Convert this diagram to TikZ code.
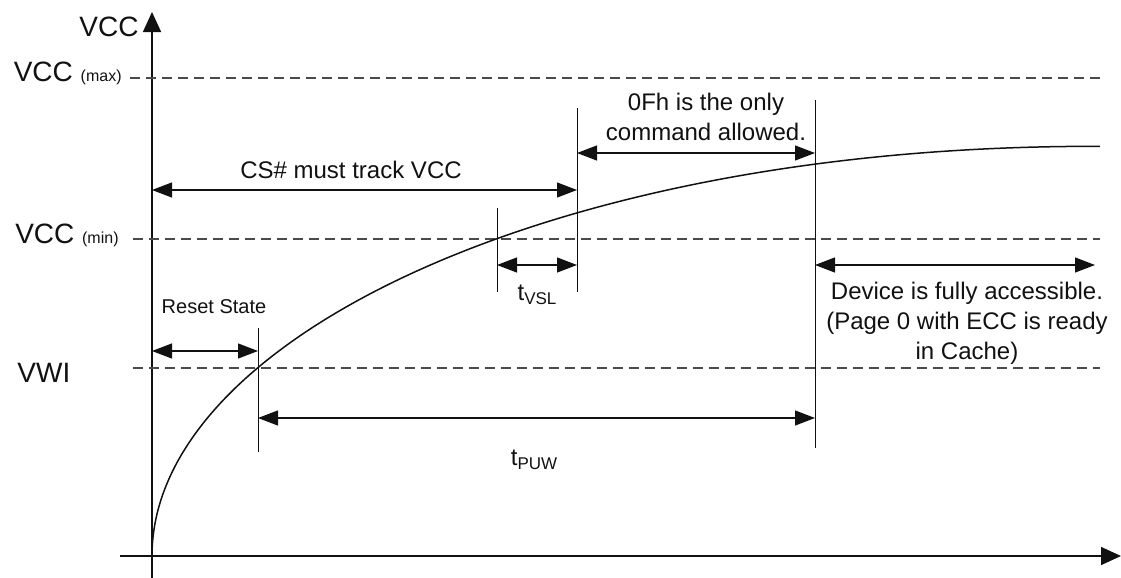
\documentclass[tikz,border=0pt]{standalone}
\usepackage{fontspec}
\setmainfont{Liberation Sans}
\usepackage{xcolor}
\usetikzlibrary{arrows.meta}
\definecolor{ink}{HTML}{111111}
\definecolor{gridgray}{HTML}{4A4A4A}
\newcommand{\subtxt}[1]{\raisebox{-0.3ex}{\fontsize{8.5}{9}\selectfont #1}}

\begin{document}
\begin{tikzpicture}[x=0.5pt, y=-0.5pt,
  lbl/.style={font=\fontsize{12}{15}\selectfont, text=ink, inner sep=0pt, align=center},
  small/.style={font=\fontsize{10}{12}\selectfont, text=ink, inner sep=0pt},
  big/.style={font=\fontsize{14}{14}\selectfont, text=ink, inner sep=0pt},
  level/.style={draw=gridgray, line width=0.6pt, dash pattern=on 5pt off 3pt},
  tick/.style={draw=ink, line width=0.5pt},
  dim/.style={draw=ink, line width=0.6pt,
    {Triangle[length=10pt,width=7.5pt]}-{Triangle[length=10pt,width=7.5pt]}},
  axis/.style={draw=ink, line width=0.8pt, -{Triangle[length=10pt,width=9pt]}}]
  \useasboundingbox (0,0) rectangle (1121,578);

  % axes
  \coordinate (ybot) at (152,578);
  \coordinate (ytop) at (152,12);
  \coordinate (xbeg) at (120,556);
  \coordinate (xend) at (1121,556);
  \draw[axis] (ybot) -- (ytop);
  \draw[axis] (xbeg) -- (xend);
  \node[big, anchor=base east] (vccaxis) at (139,37) {VCC};

  % voltage levels
  \coordinate (max-l) at (130,78);   \coordinate (max-r) at (1100,78);
  \coordinate (min-l) at (133,239);  \coordinate (min-r) at (1100,239);
  \coordinate (vwi-l) at (133,368);  \coordinate (vwi-r) at (1100,368);
  \draw[level] (max-l) -- (max-r);
  \draw[level] (min-l) -- (min-r);
  \draw[level] (vwi-l) -- (vwi-r);
  \node[big, anchor=base east] (vccmax) at (122,81)
    {VCC {\fontsize{8}{8}\selectfont(max)}};
  \node[big, anchor=base east] (vccmin) at (119,243)
    {VCC {\fontsize{8}{8}\selectfont(min)}};
  \node[big, anchor=base west] (vwi) at (17,382) {VWI};

  % supply ramp
  \draw[ink, line width=0.75pt] plot[domain=0:30.79, samples=160, variable=\t]
    ({152+\t*\t}, {556-\t*(18.79-0.004459*\t*\t-(\t*\t/844)^2)});

  % markers
  \coordinate (rst-t) at (258,328);  \coordinate (rst-b) at (258,452);
  \coordinate (vsl-t) at (497,208);  \coordinate (vsl-b) at (497,292);
  \coordinate (cs-t) at (577,108);   \coordinate (cs-b) at (577,292);
  \coordinate (acc-t) at (815,100);  \coordinate (acc-b) at (815,448);
  \draw[tick] (rst-t) -- (rst-b);
  \draw[tick] (vsl-t) -- (vsl-b);
  \draw[tick] (cs-t) -- (cs-b);
  \draw[tick] (acc-t) -- (acc-b);

  % timing arrows
  \coordinate (rst-a) at (152,351);  \coordinate (rst-z) at (258,351);
  \coordinate (puw-a) at (258,418);  \coordinate (puw-z) at (815,418);
  \coordinate (cs-a) at (152,190);   \coordinate (cs-z) at (577,190);
  \coordinate (vsl-a) at (497,265);  \coordinate (vsl-z) at (577,265);
  \coordinate (cmd-a) at (577,153);  \coordinate (cmd-z) at (815,153);
  \coordinate (acc-a) at (815,265);  \coordinate (acc-z) at (1095,265);
  \draw[dim] (rst-a) -- (rst-z);
  \draw[dim] (puw-a) -- (puw-z);
  \draw[dim] (cs-a) -- (cs-z);
  \draw[dim] (vsl-a) -- (vsl-z);
  \draw[dim] (cmd-a) -- (cmd-z);
  \draw[dim] (acc-a) -- (acc-z);

  \node[small] (reset) at (214,307) {Reset State};
  \node[lbl] (puw) at (534,460) {t\subtxt{PUW}};
  \node[lbl] (vsl) at (537,295) {t\subtxt{VSL}};
  \node[lbl, anchor=base] (track) at (351,178) {CS\# must track VCC};
  \node[lbl] (cmd) at (706,117) {0Fh is the only\\command allowed.};
  \node[lbl] (access) at (967,323)
    {Device is fully accessible.\\(Page 0 with ECC is ready\\in Cache)};
\end{tikzpicture}
\end{document}
